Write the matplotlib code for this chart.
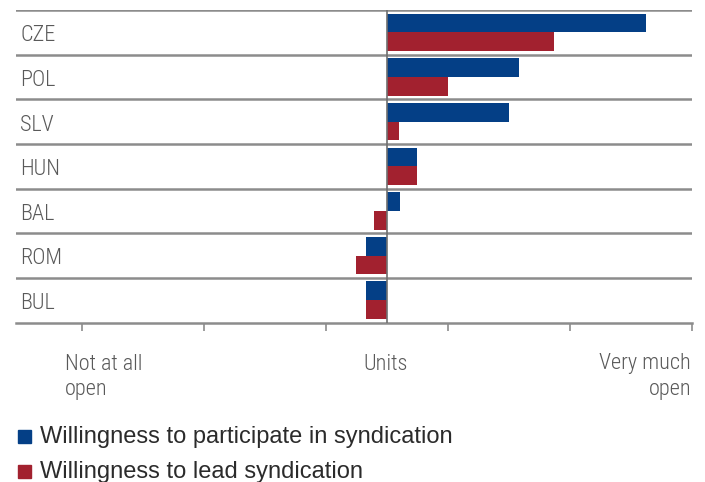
import matplotlib
matplotlib.use("Agg")
import matplotlib.pyplot as plt
import matplotlib.transforms as mtransforms
from matplotlib.patches import Rectangle
import numpy as np

plt.rcParams['font.family'] = ['Roboto Condensed', 'DejaVu Sans']
plt.rcParams['font.weight'] = 'light'

countries = ["CZE", "POL", "SLV", "HUN", "BAL", "ROM", "BUL"]
participate = [2.12, 1.08, 1.00, 0.25, 0.11, -0.17, -0.17]
lead = [1.37, 0.50, 0.10, 0.25, -0.11, -0.25, -0.17]
series_names = ["Willingness to participate in syndication",
                "Willingness to lead syndication"]
tick_pos = [-2.5, -1.5, -0.5, 0.5, 1.5, 2.5]

blue = "#043f86"
red = "#a2212f"
grid_col = "#8c8c8c"
text_col = "#595959"

fig = plt.figure(figsize=(7.05, 4.82), dpi=100)
W, H = 705, 482
ax = fig.add_axes([16 / W, (H - 322.5) / H, (692 - 16) / W, (322.5 - 10) / H])

n = len(countries)
y = np.arange(n)
bh = 0.42
ax.barh(y - bh / 2, participate, height=bh, color=blue, zorder=2)
ax.barh(y + bh / 2, lead, height=bh, color=red, zorder=2)

ax.set_ylim(n - 0.5, -0.5)
ax.set_xlim(-3.04, 2.5)

# row separators
for b in np.arange(-0.5, n - 0.5, 1.0):
    ax.axhline(b, color=grid_col, lw=1.8, zorder=1)
ax.axvline(0, color="#707070", lw=1.2, zorder=3)

for s in ["top", "left", "right"]:
    ax.spines[s].set_visible(False)
ax.spines["bottom"].set_color(grid_col)
ax.spines["bottom"].set_linewidth(1.8)
ax.set_yticks([])
ax.set_xticks(tick_pos)
ax.tick_params(axis="x", direction="out", length=5.5, width=1.2,
               color=grid_col, labelbottom=False)

trans = mtransforms.blended_transform_factory(ax.transAxes, ax.transData)
for i, c in enumerate(countries):
    ax.text(4 / 676, i + 0.2, c, transform=trans, ha="left", va="baseline",
            fontsize=16, color=text_col)

# axis end labels, one line each
ends = [(65, "left", ["Not at all", "open"]),
        (385.5, "center", ["Units"]),
        (691, "right", ["Very much", "open"])]
for xp, ha, lines in ends:
    for j, line in enumerate(lines):
        fig.text(xp / W, 1 - (369.5 + 26 * j) / H, line, ha=ha, va="baseline",
                 fontsize=16, color=text_col)

# legend
for k, (name, col) in enumerate(zip(series_names, [blue, red])):
    base = 443 + k * 35
    fig.patches.append(Rectangle((17.5 / W, 1 - base / H), 13.3 / W, 13.3 / H,
                                 transform=fig.transFigure, color=col))
    fig.text(40 / W, 1 - base / H, name, ha="left", va="baseline",
             fontsize=17, color="#2b2b2b", family="Liberation Sans",
             fontweight="normal")

fig.savefig("out.png", dpi=100)
